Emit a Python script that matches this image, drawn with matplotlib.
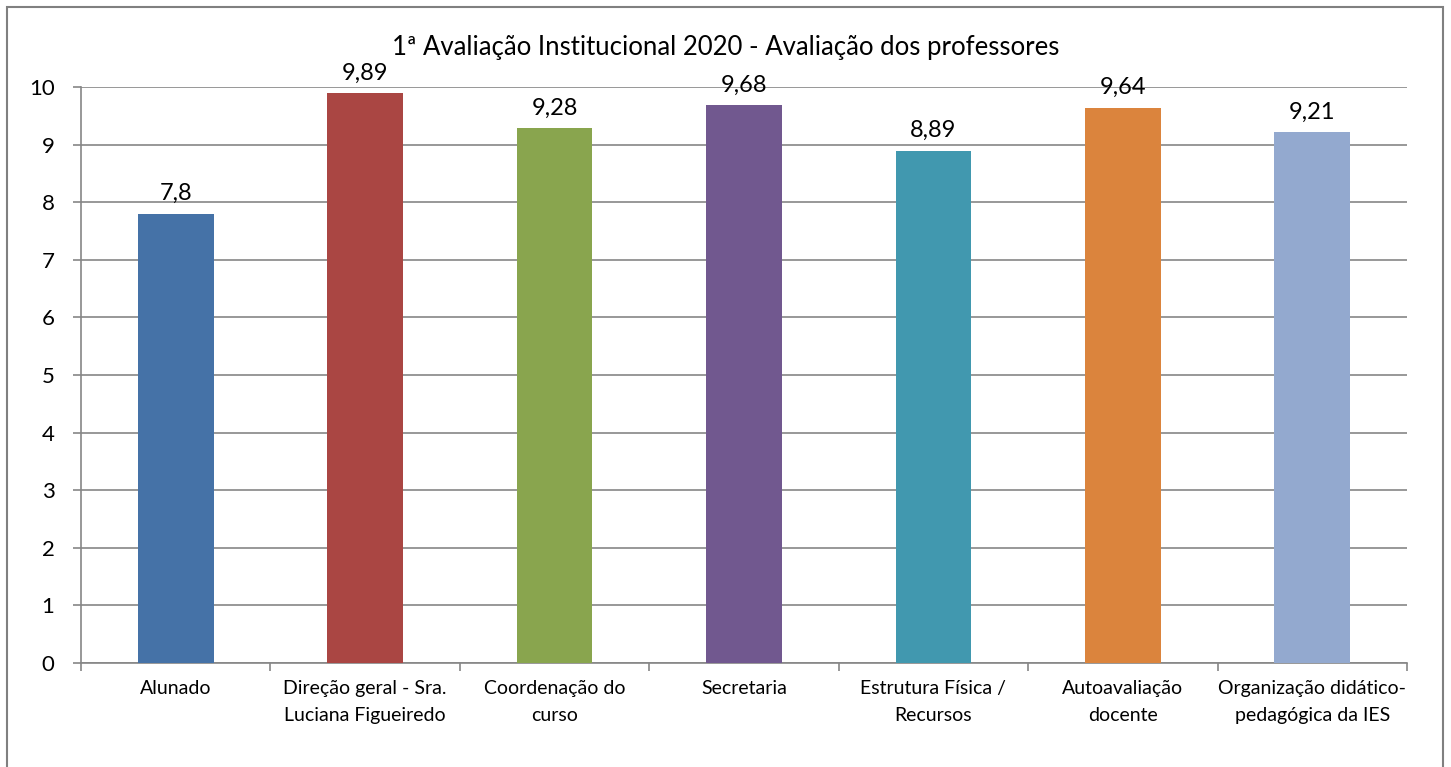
import matplotlib.pyplot as plt
import matplotlib.patches as mpatches
import numpy as np

plt.rcParams['font.family'] = ['Lato', 'DejaVu Sans']

categories = [
    "Alunado",
    "Direção geral - Sra.\nLuciana Figueiredo",
    "Coordenação do\ncurso",
    "Secretaria",
    "Estrutura Física /\nRecursos",
    "Autoavaliação\ndocente",
    "Organização didático-\npedagógica da IES",
]
values = [7.8, 9.89, 9.28, 9.68, 8.89, 9.64, 9.21]
value_labels = ["7,8", "9,89", "9,28", "9,68", "8,89", "9,64", "9,21"]
colors = ["#4572A7", "#AA4643", "#89A54E", "#71588F", "#4198AF", "#DB843D", "#93A9CF"]
title = "1ª Avaliação Institucional 2020 - Avaliação dos professores"

grid_color = "#868686"

fig = plt.figure(figsize=(14.51, 7.67), dpi=100)
ax = fig.add_axes([0.0558, 0.1356, 0.9139, 0.751])

x = np.arange(len(categories))
ax.bar(x, values, width=0.4, color=colors, zorder=3)

for xi, v, lab in zip(x, values, value_labels):
    ax.annotate(lab, (xi, v), xytext=(0, 7), textcoords="offset points",
                ha="center", va="bottom", fontsize=17, color="black")

ax.set_xlim(-0.5, len(categories) - 0.5)
ax.set_ylim(0, 10)
ax.set_yticks(range(0, 11))
ax.tick_params(axis="y", labelsize=16, length=6, width=1.2, color=grid_color, pad=13)
ax.yaxis.grid(True, color=grid_color, linewidth=1.2, zorder=0)

ax.set_xticks(x)
ax.set_xticklabels(categories, fontsize=14, linespacing=1.75)
ax.tick_params(axis="x", which="major", length=0, pad=12)
ax.set_xticks(np.arange(-0.5, len(categories)), minor=True)
ax.tick_params(axis="x", which="minor", length=6, width=1.2, color=grid_color)

for side in ["top", "right"]:
    ax.spines[side].set_visible(False)
for side in ["left", "bottom"]:
    ax.spines[side].set_color(grid_color)
    ax.spines[side].set_linewidth(1.2)

fig.text(0.5, 0.938, title, ha="center", va="center", fontsize=18.5)

frame = mpatches.Rectangle((7 / 1451, -0.05), 1436 / 1451, 1.0 - 7 / 767 + 0.05,
                           transform=fig.transFigure, fill=False,
                           edgecolor="#808080", linewidth=1.5, clip_on=False)
fig.patches.append(frame)

fig.savefig("out.png", dpi=100)
